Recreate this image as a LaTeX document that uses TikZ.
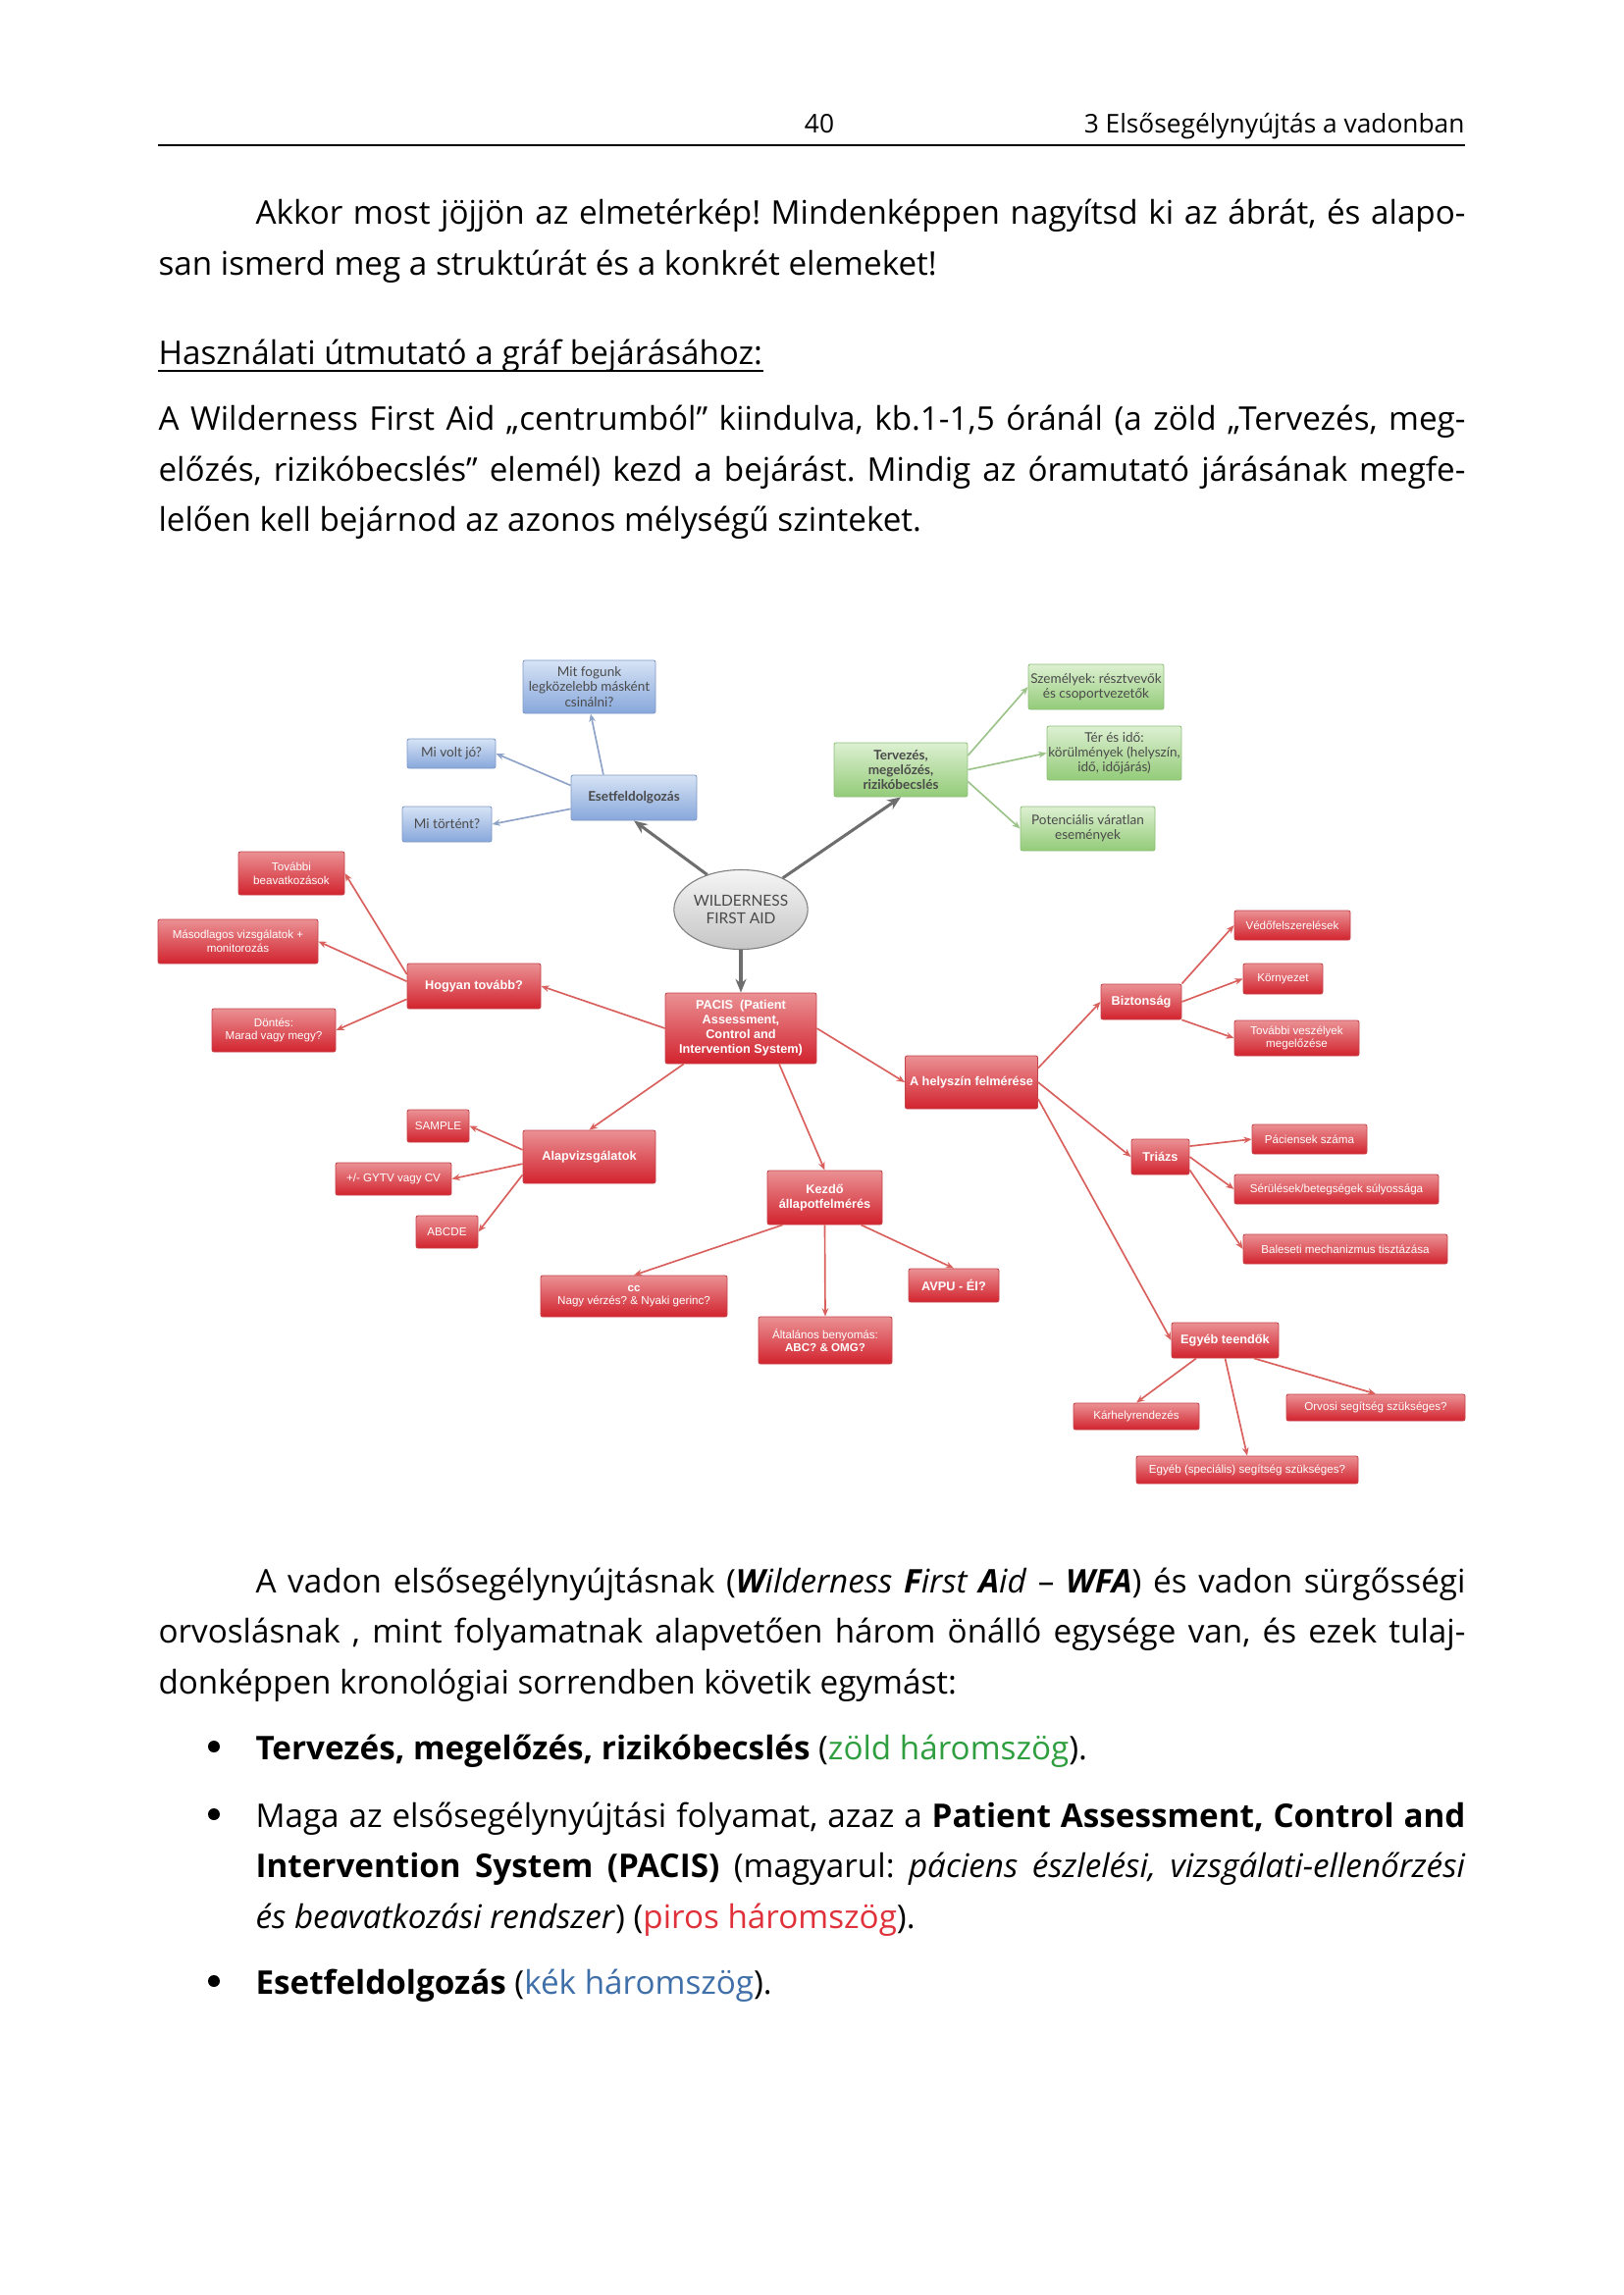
\documentclass[tikz,border=0pt]{standalone}
\usepackage{fontspec}
\setmainfont{Open Sans}
\newfontfamily\arialf{Liberation Sans}
\newfontfamily\comicf{Lato}
\usetikzlibrary{arrows.meta,shapes.geometric,calc}
\newdimen\pxu \pxu=0.126965mm
\definecolor{redtop}{HTML}{EA9194}
\definecolor{redbot}{HTML}{D2232E}
\definecolor{redborder}{HTML}{C4434A}
\definecolor{redline}{HTML}{D9605C}
\definecolor{bluetop}{HTML}{D6E3F5}
\definecolor{bluebot}{HTML}{87A7DB}
\definecolor{blueborder}{HTML}{7F98C6}
\definecolor{blueline}{HTML}{8FA3C8}
\definecolor{greentop}{HTML}{DDF0D2}
\definecolor{greenbot}{HTML}{93CB78}
\definecolor{greenborder}{HTML}{8DBF78}
\definecolor{greenline}{HTML}{9CC48A}
\definecolor{darkline}{HTML}{6E6E6E}
\definecolor{comictext}{HTML}{4A4A4A}
\definecolor{zold}{HTML}{2E9E3E}
\definecolor{piros}{HTML}{E0303A}
\definecolor{kek}{HTML}{3F6FA8}
\tikzset{
  sz/.style 2 args={minimum width=#1\pxu, minimum height=#2\pxu},
  basebox/.style={line width=0.3pt, rounded corners=2\pxu, align=center, inner sep=0pt},
  rbox/.style={basebox, draw=redborder, top color=redtop, bottom color=redbot, text=white,
    font=\arialf\fontsize{4.2}{4.9}\selectfont},
  rbold/.style={rbox, font=\arialf\bfseries\fontsize{4.6}{5.4}\selectfont},
  bbox/.style={basebox, draw=blueborder, top color=bluetop, bottom color=bluebot, text=comictext,
    font=\comicf\fontsize{4.9}{5.5}\selectfont},
  gbox/.style={basebox, draw=greenborder, top color=greentop, bottom color=greenbot, text=comictext,
    font=\comicf\fontsize{4.9}{5.5}\selectfont},
  wfanode/.style={ellipse, draw=gray, line width=0.4pt, top color=gray!8, bottom color=gray!45,
    inner sep=0pt, minimum width=110\pxu, minimum height=81\pxu, align=center, text=comictext,
    font=\comicf\fontsize{5.6}{6.6}\selectfont},
  rarr/.style={draw=redline, line width=0.6pt, -{Stealth[length=3pt,width=2.4pt]}},
  barr/.style={draw=blueline, line width=0.6pt, -{Stealth[length=3pt,width=2.4pt]}},
  garr/.style={draw=greenline, line width=0.6pt, -{Stealth[length=3pt,width=2.4pt]}},
  darr/.style={draw=darkline, line width=1.1pt, -{Stealth[length=5pt,width=4pt]}},
  txt/.style={anchor=base west, inner sep=0pt, font=\fontsize{12}{14}\selectfont},
  dot/.style={circle, fill=black, inner sep=0pt, minimum size=12\pxu}
}
\begin{document}
\frenchspacing
\begin{tikzpicture}[x=0.126965mm, y=-0.126965mm]
\fill[white] (0,0) rectangle (1654,2339);
\useasboundingbox (0,0) rectangle (1654,2339);

% header
\node[anchor=base, inner sep=0pt, font=\fontsize{9.5}{11}\selectfont] (pnum) at (835,136) {40};
\node[anchor=base east, inner sep=0pt, font=\fontsize{9.5}{11}\selectfont] (chap) at (1493,136) {3 Elsősegélynyújtás a vadonban};
\coordinate (ruleL) at (161,148);
\coordinate (ruleR) at (1493,148);
\draw[line width=0.5pt] (ruleL) -- (ruleR);

% paragraph 1
\node[txt] (p1a) at (260,228) {\makebox[1233\pxu][s]{Akkor most jöjjön az elmetérkép! Mindenképpen nagyítsd ki az ábrát, és alapo-}};
\node[txt] (p1b) at (161,280) {san ismerd meg a struktúrát és a konkrét elemeket!};
\node[txt] (head) at (161,371) {Használati útmutató a gráf bejárásához:};
\draw[line width=0.6pt] ($(head.base west)+(0,7)$) -- ($(head.base east)+(0,7)$);
\node[txt] (p2a) at (161,438) {\makebox[1332\pxu][s]{A Wilderness First Aid „centrumból” kiindulva, kb.1-1,5 óránál (a zöld „Tervezés, meg-}};
\node[txt] (p2b) at (161,490) {\makebox[1332\pxu][s]{előzés, rizikóbecslés” elemél) kezd a bejárást. Mindig az óramutató járásának megfe-}};
\node[txt] (p2c) at (161,541) {lelően kell bejárnod az azonos mélységű szinteket.};

% ---------- diagram ----------
% blue
\node[bbox,sz={135}{54}] (mit) at (600.5,700) {Mit fogunk\\legközelebb másként\\csinálni?};
\node[bbox,sz={90}{30}] (jo) at (460,768) {Mi volt jó?};
\node[bbox,sz={128}{46},font=\comicf\bfseries\fontsize{4.9}{5.5}\selectfont] (eset) at (646,813) {Esetfeldolgozás};
\node[bbox,sz={91}{36}] (tortent) at (455.5,840) {Mi történt?};
% green
\node[gbox,sz={136}{55},font=\comicf\bfseries\fontsize{4.9}{5.5}\selectfont] (terv) at (918,784.5) {Tervezés,\\megelőzés,\\rizikóbecslés};
\node[gbox,sz={138}{46}] (szem) at (1117,700) {Személyek: résztvevők\\és csoportvezetők};
\node[gbox,sz={137}{55}] (ter) at (1135.5,767.5) {Tér és idő:\\körülmények (helyszín,\\idő, időjárás)};
\node[gbox,sz={137}{45}] (pot) at (1108.5,844.5) {Potenciális váratlan\\események};
% centre
\node[wfanode] (wfa) at (755,927) {WILDERNESS\\FIRST AID};
\node[rbold,sz={154}{72}] (pacis) at (755,1048) {PACIS\ \ (Patient\\Assessment,\\Control and\\Intervention System)};
% left red
\node[rbox,sz={108}{44}] (tovabb) at (297,890) {További\\beavatkozások};
\node[rbox,sz={163}{45}] (masod) at (242.5,959.5) {Másodlagos vizsgálatok +\\monitorozás};
\node[rbold,sz={136}{46}] (hogyan) at (483,1005) {Hogyan tovább?};
\node[rbox,sz={126}{44}] (dontes) at (279,1050) {Döntés:\\Marad vagy megy?};
\node[rbold,sz={135}{54}] (alap) at (600.5,1179) {Alapvizsgálatok};
\node[rbox,sz={63}{33}] (sample) at (446.5,1147.5) {SAMPLE};
\node[rbox,sz={118}{33}] (gytv) at (401,1201.5) {+/- GYTV vagy CV};
\node[rbox,sz={63}{33}] (abcde) at (455.5,1255.5) {ABCDE};
\node[rbold,sz={117}{55}] (kezdo) at (840.5,1220.5) {Kezdő\\állapotfelmérés};
\node[rbox,sz={190}{42}] (cc) at (646,1321) {\textbf{cc}\\Nagy vérzés? \& Nyaki gerinc?};
\node[rbold,sz={92}{34}] (avpu) at (972,1310) {AVPU - Él?};
\node[rbox,sz={136}{48}] (altal) at (841,1366) {Általános benyomás:\\\textbf{ABC? \& OMG?}};
% right red
\node[rbold,sz={135}{54}] (hely) at (990,1103) {A helyszín felmérése};
\node[rbold,sz={82}{36}] (bizt) at (1163,1021) {Biztonság};
\node[rbox,sz={118}{30}] (vedo) at (1317,943) {Védőfelszerelések};
\node[rbox,sz={81}{31}] (korny) at (1307.5,997.5) {Környezet};
\node[rbox,sz={127}{36}] (veszely) at (1321.5,1058) {További veszélyek\\megelőzése};
\node[rbold,sz={59}{36}] (triazs) at (1182.5,1179) {Triázs};
\node[rbox,sz={117}{30}] (paciens) at (1334.5,1161) {Páciensek száma};
\node[rbox,sz={208}{30}] (serul) at (1362,1212) {Sérülések/betegségek súlyossága};
\node[rbox,sz={208}{30}] (baleset) at (1371,1273) {Baleseti mechanizmus tisztázása};
\node[rbold,sz={109}{36}] (egyeb) at (1248.5,1366) {Egyéb teendők};
\node[rbox,sz={128}{27}] (karhely) at (1158,1443.5) {Kárhelyrendezés};
\node[rbox,sz={182}{27}] (orvosi) at (1402,1434.5) {Orvosi segítség szükséges?};
\node[rbox,sz={226}{28}] (spec) at (1271,1498) {Egyéb (speciális) segítség szükséges?};

% connectors
\draw[barr] (eset.143) -- (mit.-87);
\draw[barr] (eset.169) -- (jo.east);
\draw[barr] (eset.190) -- (tortent.east);
\draw[darr] (wfa.134) -- (eset.south);
\draw[darr] (wfa.37) -- (terv.south);
\draw[darr] (wfa.south) -- (pacis.north);
\draw[garr] (terv.12) -- (szem.west);
\draw[garr] (terv.east) -- (ter.west);
\draw[garr] (terv.-10) -- (pot.west);
\draw[rarr] (pacis.west) -- (hogyan.east);
\draw[rarr] (hogyan.170) -- (tovabb.east);
\draw[rarr] (hogyan.176) -- (masod.east);
\draw[rarr] (hogyan.191) -- (dontes.east);
\draw[rarr] (pacis.212) -- (alap.north);
\draw[rarr] (pacis.-43.5) -- (kezdo.north);
\draw[rarr] (pacis.east) -- (hely.west);
\draw[rarr] (alap.174) -- (sample.east);
\draw[rarr] (alap.186) -- (gytv.east);
\draw[rarr] (alap.195) -- (abcde.east);
\draw[rarr] (kezdo.213) -- (cc.north);
\draw[rarr] (kezdo.south) -- (altal.north);
\draw[rarr] (kezdo.-37.5) -- (avpu.north);
\draw[rarr] (hely.12) -- (bizt.west);
\draw[rarr] (hely.east) -- (triazs.west);
\draw[rarr] (hely.-14) -- (egyeb.west);
\draw[rarr] (bizt.north east) -- (vedo.west);
\draw[rarr] (bizt.east) -- (korny.west);
\draw[rarr] (bizt.south east) -- (veszely.west);
\draw[rarr] (triazs.20) -- (paciens.west);
\draw[rarr] (triazs.east) -- (serul.west);
\draw[rarr] (triazs.-24) -- (baleset.west);
\draw[rarr] (egyeb.212) -- (karhely.north);
\draw[rarr] (egyeb.south) -- (spec.north);
\draw[rarr] (egyeb.-32) -- (orvosi.north);

% paragraph 3
\node[txt] (p3a) at (260,1623) {\makebox[1233\pxu][s]{A vadon elsősegélynyújtásnak (\textit{\textbf{W}ilderness \textbf{F}irst \textbf{A}id} – \textbf{\textit{WFA}}) és vadon sürgősségi}};
\node[txt] (p3b) at (161,1674) {\makebox[1332\pxu][s]{orvoslásnak , mint folyamatnak alapvetően három önálló egysége van, és ezek tulaj-}};
\node[txt] (p3c) at (161,1726) {donképpen kronológiai sorrendben követik egymást:};

% bullets
\node[dot] (d1) at (218,1780) {};
\node[txt] (b1) at (260,1793) {\textbf{Tervezés, megelőzés, rizikóbecslés} ({\color{zold}zöld háromszög}).};
\node[dot] (d2) at (218,1849) {};
\node[txt] (b2a) at (260,1862) {\makebox[1233\pxu][s]{Maga az elsősegélynyújtási folyamat, azaz a \textbf{Patient Assessment, Control and}}};
\node[txt] (b2b) at (260,1913) {\makebox[1233\pxu][s]{\textbf{Intervention System (PACIS)} (magyarul: \textit{páciens észlelési, vizsgálati-ellenőrzési}}};
\node[txt] (b2c) at (260,1965) {\textit{és beavatkozási rendszer}) ({\color{piros}piros háromszög}).};
\node[dot] (d3) at (218,2019) {};
\node[txt] (b3) at (260,2032) {\textbf{Esetfeldolgozás} ({\color{kek}kék háromszög}).};
\end{tikzpicture}
\end{document}
